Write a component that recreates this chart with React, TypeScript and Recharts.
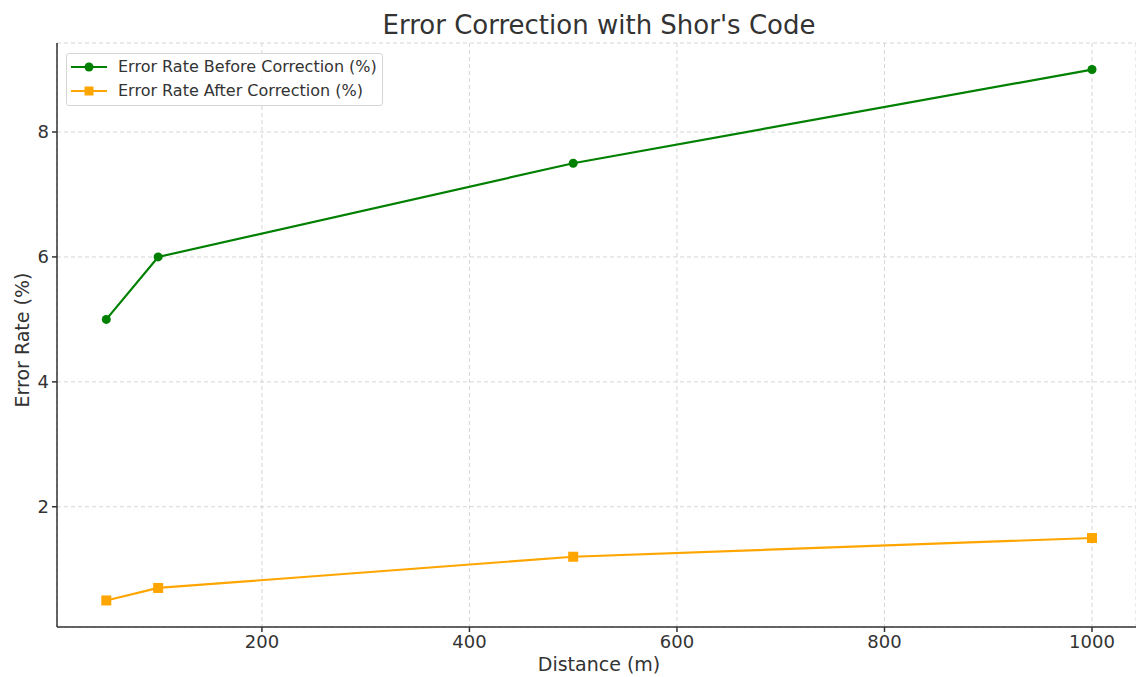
import { LineChart, Line, XAxis, YAxis, CartesianGrid } from "recharts";

const distances = [50, 100, 500, 1000];
const beforeCorrection = [5, 6, 7.5, 9];
const afterCorrection = [0.5, 0.7, 1.2, 1.5];
const xTicks = [200, 400, 600, 800, 1000];
const yTicks = [2, 4, 6, 8];

const GREEN = "#008000";
const ORANGE = "#FFA500";
const FONT = "'DejaVu Sans', sans-serif";

const data = distances.map((d, i) => ({
  distance: d,
  before: beforeCorrection[i],
  after: afterCorrection[i],
}));

const SquareDot = (props: any) => {
  const { cx, cy, index } = props;
  if (cx == null || cy == null) return null;
  return <rect key={`sq-${index}`} x={cx - 5} y={cy - 5} width={10} height={10} fill={ORANGE} />;
};

const legendItems = [
  { label: "Error Rate Before Correction (%)", color: GREEN, shape: "circle" },
  { label: "Error Rate After Correction (%)", color: ORANGE, shape: "square" },
];

const LegendBox = () => (
  <div
    style={{
      position: "absolute",
      top: 53,
      left: 66,
      width: 317,
      height: 53,
      boxSizing: "border-box",
      border: "1px solid #d6d6d6",
      borderRadius: 3,
      background: "rgba(255,255,255,0.8)",
      padding: "1px 0 0 3px",
      fontFamily: FONT,
      fontSize: 16,
      color: "#333",
      lineHeight: "24px",
    }}
  >
    {legendItems.map((item) => (
      <div key={item.label} style={{ display: "flex", alignItems: "center" }}>
        <svg width={40} height={14} style={{ marginRight: 8 }}>
          <line x1={1} y1={7} x2={37} y2={7} stroke={item.color} strokeWidth={2.2} />
          {item.shape === "circle" ? (
            <circle cx={19} cy={7} r={4.5} fill={item.color} />
          ) : (
            <rect x={14.5} y={2.5} width={9} height={9} fill={item.color} />
          )}
        </svg>
        <span>{item.label}</span>
      </div>
    ))}
  </div>
);

export default function App() {
  return (
    <div style={{ position: "absolute", top: 0, left: 0, width: 1136, height: 677, background: "#fff" }}>
      <LineChart
        width={1136}
        height={677}
        data={data}
        margin={{ top: 43, right: 0, bottom: 0, left: 0 }}
        style={{ position: "absolute", top: 0, left: 0 }}
      >
        <CartesianGrid stroke="#cccccc" strokeDasharray="4 3" strokeWidth={0.8} />
        <XAxis
          dataKey="distance"
          type="number"
          domain={[2.5, 1042.4]}
          ticks={xTicks}
          allowDataOverflow
          height={50}
          stroke="#333"
          strokeWidth={1.5}
          tickSize={5}
          tickMargin={3}
          tick={{ fill: "#333", fontSize: 18, fontFamily: FONT }}
        />
        <YAxis
          type="number"
          domain={[0.075, 9.425]}
          ticks={yTicks}
          allowDataOverflow
          width={57}
          stroke="#333"
          strokeWidth={1.5}
          tickSize={5}
          tickMargin={3}
          tick={{ fill: "#333", fontSize: 18, fontFamily: FONT }}
        />
        <Line
          dataKey="before"
          stroke={GREEN}
          strokeWidth={2.2}
          dot={{ r: 4.5, fill: GREEN, stroke: GREEN, strokeWidth: 0 }}
          activeDot={false}
          isAnimationActive={false}
        />
        <Line
          dataKey="after"
          stroke={ORANGE}
          strokeWidth={2.2}
          dot={<SquareDot />}
          activeDot={false}
          isAnimationActive={false}
        />
      </LineChart>
      <div
        style={{
          position: "absolute",
          top: 10,
          left: 0,
          width: 1198,
          textAlign: "center",
          fontFamily: FONT,
          fontSize: 26,
          color: "#333",
        }}
      >
        Error Correction with Shor's Code
      </div>
      <div
        style={{
          position: "absolute",
          top: 653,
          left: 0,
          width: 1198,
          textAlign: "center",
          fontFamily: FONT,
          fontSize: 19,
          color: "#333",
        }}
      >
        Distance (m)
      </div>
      <div
        style={{
          position: "absolute",
          left: 22,
          top: 340,
          transform: "translate(-50%, -50%) rotate(-90deg)",
          fontFamily: FONT,
          fontSize: 19,
          color: "#333",
          whiteSpace: "nowrap",
        }}
      >
        Error Rate (%)
      </div>
      <LegendBox />
    </div>
  );
}
